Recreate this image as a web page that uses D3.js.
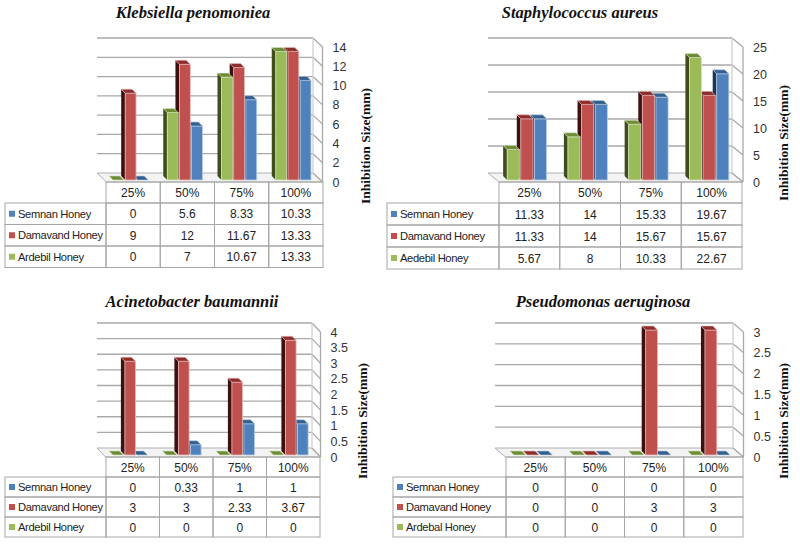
<!DOCTYPE html>
<html lang="en">
<head>
<meta charset="UTF-8">
<title>Inhibition size of honeys</title>
<style>
    body { margin: 0; background: #fff; }
    .title { font-family: "Liberation Serif", serif; font-weight: bold; font-style: italic; font-size: 16.5px; fill: #111; }
    .ytitle { font-family: "Liberation Serif", serif; font-weight: bold; font-size: 13.5px; fill: #111; }
    .tick { font-family: "Liberation Sans", sans-serif; font-size: 12.5px; fill: #333; }
    .cell { font-family: "Liberation Sans", sans-serif; font-size: 12px; fill: #222; }
    .rowlab { font-family: "Liberation Sans", sans-serif; font-size: 11.2px; letter-spacing: -0.35px; fill: #222; }
</style>
<script src="https://cdn.jsdelivr.net/npm/d3@7"></script>
</head>
<body>
<svg width="800" height="545"></svg>
<script>
    // categories (honey concentration)
    const categories = ["25%", "50%", "75%", "100%"];

    // Klebsiella penomoniea
    const klebSemnan = [0, 5.6, 8.33, 10.33];
    const klebDamavand = [9, 12, 11.67, 13.33];
    const klebArdebil = [0, 7, 10.67, 13.33];

    // Staphylococcus aureus
    const staphSemnan = [11.33, 14, 15.33, 19.67];
    const staphDamavand = [11.33, 14, 15.67, 15.67];
    const staphArdebil = [5.67, 8, 10.33, 22.67];

    // Acinetobacter baumannii
    const acinSemnan = [0, 0.33, 1, 1];
    const acinDamavand = [3, 3, 2.33, 3.67];
    const acinArdebil = [0, 0, 0, 0];

    // Pseudomonas aeruginosa
    const pseudoSemnan = [0, 0, 0, 0];
    const pseudoDamavand = [0, 0, 3, 3];
    const pseudoArdebil = [0, 0, 0, 0];

    const titles = ["Klebsiella penomoniea", "Staphylococcus aureus", "Acinetobacter baumannii", "Pseudomonas aeruginosa"];
    const yMax = [14, 25, 4, 3];
    const yStep = [2, 5, 0.5, 0.5];
    const ardebilNames = ["Ardebil Honey", "Aedebil Honey", "Ardebil Honey", "Ardebal Honey"];
    const yLabel = "Inhibition Size(mm)";

    // table order: Semnan, Damavand, Ardebil
    const panelSeries = [
        [klebSemnan, klebDamavand, klebArdebil],
        [staphSemnan, staphDamavand, staphArdebil],
        [acinSemnan, acinDamavand, acinArdebil],
        [pseudoSemnan, pseudoDamavand, pseudoArdebil]
    ];

    const frontColor = ["#4F81BD", "#C0504D", "#9BBB59"];
    const sideColor = ["#1f3557", "#3d1110", "#3f4d1d"];
    const topColor = ["#33608f", "#8e2e2c", "#6e8c36"];
    const edgeColor = ["#b9cde5", "#e6b9b8", "#d7e4bd"];

    // panel geometry (pixels)
    const layout = [
        {x0: 97, x1: 313, yTop: 38, yb: 173, dx: 9.5, dy: 9, tx: 193, ty: 18, yx: 365, yy: 146, lab: 5, col0: 106, col1: 323, hb: 203, rh: 21.5},
        {x0: 488, x1: 732, yTop: 38, yb: 173, dx: 11, dy: 9, tx: 580, ty: 18, yx: 783, yy: 143, lab: 387, col0: 499, col1: 742, hb: 203, rh: 22},
        {x0: 97, x1: 312, yTop: 323, yb: 448, dx: 8.5, dy: 9, tx: 192, ty: 307, yx: 362, yy: 421, lab: 5, col0: 106, col1: 320, hb: 477, rh: 20},
        {x0: 495, x1: 733, yTop: 323, yb: 448, dx: 10.5, dy: 9, tx: 603, ty: 307, yx: 783, yy: 421, lab: 393, col0: 506, col1: 743, hb: 477, rh: 20}
    ];

    const svg = d3.select("svg");

    function drawPanel(p) {
        const L = layout[p];
        const vals = panelSeries[p];
        const names = ["Semnan Honey", "Damavand Honey", ardebilNames[p]];
        const g = svg.append("g");

        const y = d3.scaleLinear().domain([0, yMax[p]]).range([L.yb, L.yTop]);
        const ticks = d3.range(0, yMax[p] + yStep[p] / 2, yStep[p]);

        g.append("text").attr("class", "title").attr("x", L.tx).attr("y", L.ty)
            .attr("text-anchor", "middle").text(titles[p]);

        // floor
        g.append("polygon")
            .attr("points", [[L.x0, L.yb], [L.x1, L.yb], [L.x1 + L.dx, L.yb + L.dy], [L.x0 + L.dx, L.yb + L.dy]].join(" "))
            .attr("fill", "#f3f3f3").attr("stroke", "#b0b0b0").attr("stroke-width", 1);

        // walls / gridlines
        const grid = g.append("g").attr("stroke", "#a9a9a9").attr("stroke-width", 1.3).attr("fill", "none");
        grid.selectAll("line.h").data(ticks.filter(t => t > 0)).enter().append("line")
            .attr("x1", L.x0).attr("x2", L.x1).attr("y1", d => y(d)).attr("y2", d => y(d));
        grid.selectAll("line.s").data(ticks).enter().append("line")
            .attr("x1", L.x1).attr("x2", L.x1 + L.dx).attr("y1", d => y(d)).attr("y2", d => y(d) + L.dy);
        grid.append("line").attr("x1", L.x1).attr("x2", L.x1).attr("y1", L.yTop).attr("y2", L.yb).attr("stroke", "#d0d0d0");
        grid.append("line").attr("x1", L.x1 + L.dx).attr("x2", L.x1 + L.dx)
            .attr("y1", L.yTop + L.dy).attr("y2", L.yb + L.dy);

        // tick labels
        g.selectAll("text.tick").data(ticks).enter().append("text").attr("class", "tick")
            .attr("x", L.x1 + L.dx + 10).attr("y", d => y(d) + L.dy + 4.5)
            .text(d => d3.format("~g")(d));

        g.append("text").attr("class", "ytitle")
            .attr("transform", `translate(${L.yx},${L.yy}) rotate(-90)`)
            .attr("text-anchor", "middle").attr("dy", "0.35em").text(yLabel);

        // bars
        const x = d3.scaleBand().domain(categories).range([L.col0, L.col1]);
        const order = [2, 1, 0]; // green, red, blue left to right
        const xs = d3.scaleBand().domain(order).range([0, x.bandwidth()]).paddingInner(0.11).paddingOuter(0.78);
        const sy = 7, shift = -2.5, bdx = -4, bdy = -4;
        const bars = [];
        categories.forEach((c, i) => {
            order.forEach(s => {
                bars.push({s: s, v: vals[s][i], xl: x(c) + xs(s) + shift, w: xs.bandwidth()});
            });
        });
        bars.sort((a, b) => b.xl - a.xl);
        const bg = g.append("g");
        bars.forEach(b => {
            const yt = y(b.v) + sy, y0 = y(0) + sy;
            const xr = b.xl + b.w;
            bg.append("polygon")
                .attr("points", [[b.xl, yt], [b.xl, y0], [b.xl + bdx, y0 + bdy], [b.xl + bdx, yt + bdy]].join(" "))
                .attr("fill", sideColor[b.s]);
            bg.append("rect").attr("x", b.xl).attr("y", yt).attr("width", b.w).attr("height", y0 - yt)
                .attr("fill", frontColor[b.s]).attr("stroke", edgeColor[b.s]).attr("stroke-width", 0.8);
            bg.append("polygon")
                .attr("points", [[b.xl, yt], [xr, yt], [xr + bdx, yt + bdy], [b.xl + bdx, yt + bdy]].join(" "))
                .attr("fill", topColor[b.s]).attr("stroke", edgeColor[b.s]).attr("stroke-width", 0.6);
        });

        // data table
        const ht = L.yb + L.dy;
        const tg = g.append("g");
        const border = "#a6a6a6";
        categories.forEach(c => {
            tg.append("rect").attr("x", x(c)).attr("y", ht).attr("width", x.bandwidth()).attr("height", L.hb - ht)
                .attr("fill", "none").attr("stroke", border);
            tg.append("text").attr("class", "cell").attr("x", x(c) + x.bandwidth() / 2).attr("y", (ht + L.hb) / 2 + 4.5)
                .attr("text-anchor", "middle").text(c);
        });
        names.forEach((n, r) => {
            const ry = L.hb + r * L.rh;
            tg.append("rect").attr("x", L.lab).attr("y", ry).attr("width", L.col0 - L.lab).attr("height", L.rh)
                .attr("fill", "none").attr("stroke", border);
            tg.append("rect").attr("x", L.lab + 4).attr("y", ry + L.rh / 2 - 3).attr("width", 6).attr("height", 6)
                .attr("fill", frontColor[r]);
            tg.append("text").attr("class", "rowlab").attr("x", L.lab + 13).attr("y", ry + L.rh / 2 + 4).text(n);
            categories.forEach((c, i) => {
                tg.append("rect").attr("x", x(c)).attr("y", ry).attr("width", x.bandwidth()).attr("height", L.rh)
                    .attr("fill", "none").attr("stroke", border);
                tg.append("text").attr("class", "cell").attr("x", x(c) + x.bandwidth() / 2).attr("y", ry + L.rh / 2 + 4.5)
                    .attr("text-anchor", "middle").text(vals[r][i]);
            });
        });
    }

    d3.range(4).forEach(drawPanel);
</script>
</body>
</html>
